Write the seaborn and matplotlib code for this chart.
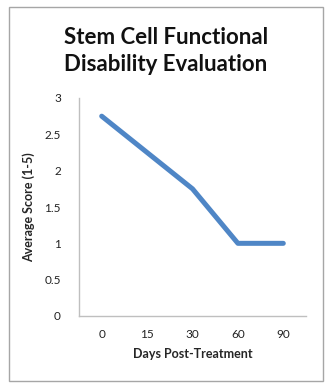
import matplotlib
matplotlib.use("Agg")
import matplotlib.pyplot as plt
import seaborn as sns
import pandas as pd
from matplotlib.patches import Rectangle

days = ["0", "15", "30", "60", "90"]
scores = [2.75, 2.25, 1.75, 1.0, 1.0]
yticks = [0, 0.5, 1, 1.5, 2, 2.5, 3]
ytick_labels = ["0", "0.5", "1", "1.5", "2", "2.5", "3"]

sns.set_theme(style="white")
plt.rcParams['font.family'] = ['Lato', 'DejaVu Sans']

df = pd.DataFrame({"Days": days, "Score": scores})

fig = plt.figure(figsize=(3.29, 3.92), dpi=100)
fig.patch.set_facecolor("white")
fig.patches.append(Rectangle((9/329, 1-381/392), (323-9)/329, (381-7)/392,
                             transform=fig.transFigure, fill=False,
                             edgecolor="#A6A6A6", linewidth=1.0))

ax = fig.add_axes([79/329, 1-316/392, (306-79)/329, (316-98)/392])
sns.lineplot(data=df, x="Days", y="Score", ax=ax, color="#4F86C6",
             linewidth=3.6, sort=False, solid_capstyle="round")
ax.set_xlim(-0.5, 4.5)
ax.set_ylim(0, 3)
ax.set_yticks(yticks)
ax.set_yticklabels(ytick_labels)
ax.tick_params(axis="both", length=0, labelsize=8.5, colors="#222222")
ax.tick_params(axis="y", pad=13)
ax.tick_params(axis="x", pad=9)
for s in ["top", "right"]:
    ax.spines[s].set_visible(False)
for s in ["left", "bottom"]:
    ax.spines[s].set_color("#BFBFBF")
    ax.spines[s].set_linewidth(1.0)
ax.set_xlabel("Days Post-Treatment", fontsize=9, fontweight="bold", labelpad=6)
ax.set_ylabel("Average Score (1-5)", fontsize=9, fontweight="bold", labelpad=7)

fig.text(166/329, 1-51/392, "Stem Cell Functional\nDisability Evaluation",
         ha="center", va="center", fontsize=16, fontweight="bold",
         linespacing=1.3, color="#111111")

fig.savefig("out.png", dpi=100)
